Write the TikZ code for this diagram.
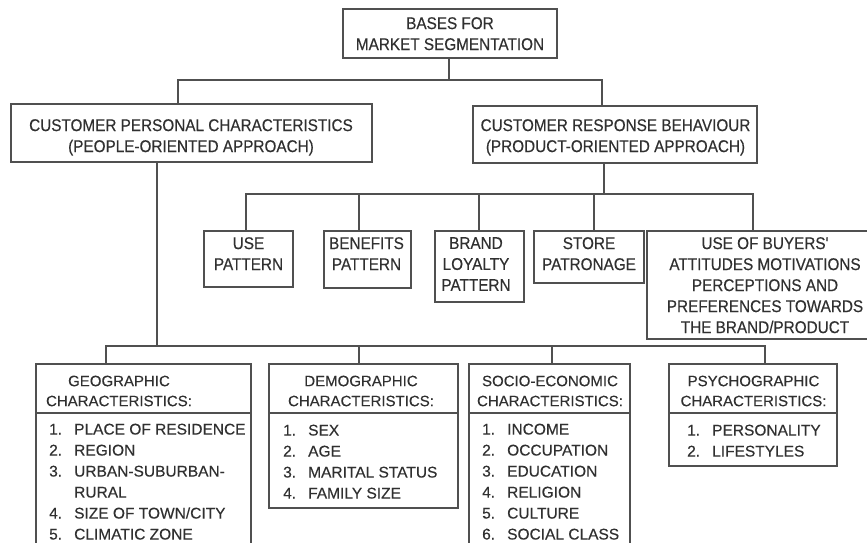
\documentclass[tikz,border=0pt]{standalone}
\usepackage{fontspec}
\setmainfont{Liberation Sans}[FakeBold=0.3]
\newfontfamily\condfont[FakeStretch=0.9,FakeBold=0.3]{Liberation Sans}
\usetikzlibrary{fit}
\definecolor{ink}{HTML}{303030}
\definecolor{ln}{HTML}{505050}
\newcommand\mkitem[2]{\makebox[25pt][l]{#1}#2}
\begin{document}
\begin{tikzpicture}[x=1pt,y=-1pt,
  bx/.style={draw=ln, line width=1.1pt, inner sep=0pt},
  cn/.style={draw=ln, line width=1.1pt},
  hl/.style={text=ink, font=\condfont\fontsize{17}{21}\selectfont, align=center, inner sep=0pt, anchor=north},
  hd/.style={text=ink, font=\fontsize{15}{20}\selectfont, align=center, inner sep=0pt, anchor=north},
  it/.style={text=ink, font=\fontsize{15.5}{21}\selectfont, align=left, inner sep=0pt, anchor=north west}]
\useasboundingbox (0,0) rectangle (867,543);
\fill[white] (0,0) rectangle (867,543);
\clip (0,0) rectangle (867,543);

% level 0
\node[bx, fit={(343,9) (557,58)}] (top) {};
\node[hl] (toptx) at (450,17) {BASES FOR\\MARKET SEGMENTATION};

% level 1
\node[bx, fit={(11,104) (372,162)}] (lbox) {};
\node[hl] (lboxtx) at (191,119) {CUSTOMER PERSONAL CHARACTERISTICS\\(PEOPLE-ORIENTED APPROACH)};
\node[bx, fit={(473,106) (757,163)}] (rbox) {};
\node[hl] (rboxtx) at (615.5,119) {CUSTOMER RESPONSE BEHAVIOUR\\(PRODUCT-ORIENTED APPROACH)};

% level 2 (product oriented)
\node[bx, fit={(204,231) (293,287)}] (use) {};
\node[hl] (usetx) at (248.5,237) {USE\\PATTERN};
\node[bx, fit={(324,231) (411,288)}] (ben) {};
\node[hl] (bentx) at (366.5,237) {BENEFITS\\PATTERN};
\node[bx, fit={(435,231) (524,302)}] (brand) {};
\node[hl] (brandtx) at (476,237) {BRAND\\LOYALTY\\PATTERN};
\node[bx, fit={(534,231) (644,283)}] (store) {};
\node[hl] (storetx) at (589,237) {STORE\\PATRONAGE};
\node[bx, fit={(647,231) (889,339)}] (buy) {};
\node[hl] (buytx) at (765,237) {USE OF BUYERS'\\ATTITUDES MOTIVATIONS\\PERCEPTIONS AND\\PREFERENCES TOWARDS\\THE BRAND/PRODUCT};

% level 2 (people oriented)
\node[bx, fit={(36,364) (251,413)}] (geo) {};
\node[bx, fit={(36,413) (251,560)}] (geol) {};
\node[hd] (geotx) at (119,375.5) {GEOGRAPHIC\\CHARACTERISTICS:};
\node[it] (geoit) at (49,423.5) {\mkitem{1.}{PLACE OF RESIDENCE}\\\mkitem{2.}{REGION}\\\mkitem{3.}{URBAN-SUBURBAN-}\\\mkitem{}{RURAL}\\\mkitem{4.}{SIZE OF TOWN/CITY}\\\mkitem{5.}{CLIMATIC ZONE}};

\node[bx, fit={(269,364) (458,413)}] (demo) {};
\node[bx, fit={(269,413) (458,508)}] (demol) {};
\node[hd] (demotx) at (361,375.5) {DEMOGRAPHIC\\CHARACTERISTICS:};
\node[it] (demoit) at (283,424.5) {\mkitem{1.}{SEX}\\\mkitem{2.}{AGE}\\\mkitem{3.}{MARITAL STATUS}\\\mkitem{4.}{FAMILY SIZE}};

\node[bx, fit={(469,364) (630,413)}] (soc) {};
\node[bx, fit={(469,413) (630,560)}] (socl) {};
\node[hd] (soctx) at (550,375.5) {SOCIO-ECONOMIC\\CHARACTERISTICS:};
\node[it] (socit) at (482,423.5) {\mkitem{1.}{INCOME}\\\mkitem{2.}{OCCUPATION}\\\mkitem{3.}{EDUCATION}\\\mkitem{4.}{RELIGION}\\\mkitem{5.}{CULTURE}\\\mkitem{6.}{SOCIAL CLASS}};

\node[bx, fit={(669,364) (837,413)}] (psy) {};
\node[bx, fit={(669,413) (837,466)}] (psyl) {};
\node[hd] (psytx) at (753.5,375.5) {PSYCHOGRAPHIC\\CHARACTERISTICS:};
\node[it] (psyit) at (687,424.5) {\mkitem{1.}{PERSONALITY}\\\mkitem{2.}{LIFESTYLES}};

% connectors level 0 -> 1
\coordinate (j1) at (449,80);
\draw[cn] (top.south -| j1) -- (j1);
\draw[cn] ([xshift=-13.5pt]lbox.north) |- ([xshift=-13pt]rbox.north |- j1) -- ([xshift=-13pt]rbox.north);

% connectors rbox -> level 2
\coordinate (j2) at (604,194);
\draw[cn] (rbox.south -| j2) -- (j2);
\draw[cn] ([xshift=-2.5pt]use.north) |- ([xshift=-15pt]buy.north |- j2) -- ([xshift=-15pt]buy.north);
\draw[cn] ([xshift=-8.5pt]ben.north) -- ([xshift=-8.5pt]ben.north |- j2);
\draw[cn] ([xshift=-0.5pt]brand.north) -- ([xshift=-0.5pt]brand.north |- j2);
\draw[cn] ([xshift=5pt]store.north) -- ([xshift=5pt]store.north |- j2);

% connectors lbox -> level 2
\coordinate (j3) at (157,346);
\draw[cn] (lbox.south -| j3) -- (j3);
\draw[cn] ([xshift=-37.5pt]geo.north) |- ([xshift=12pt]psy.north |- j3) -- ([xshift=12pt]psy.north);
\draw[cn] ([xshift=-4.5pt]demo.north) -- ([xshift=-4.5pt]demo.north |- j3);
\draw[cn] ([xshift=2.5pt]soc.north) -- ([xshift=2.5pt]soc.north |- j3);
\end{tikzpicture}
\end{document}
